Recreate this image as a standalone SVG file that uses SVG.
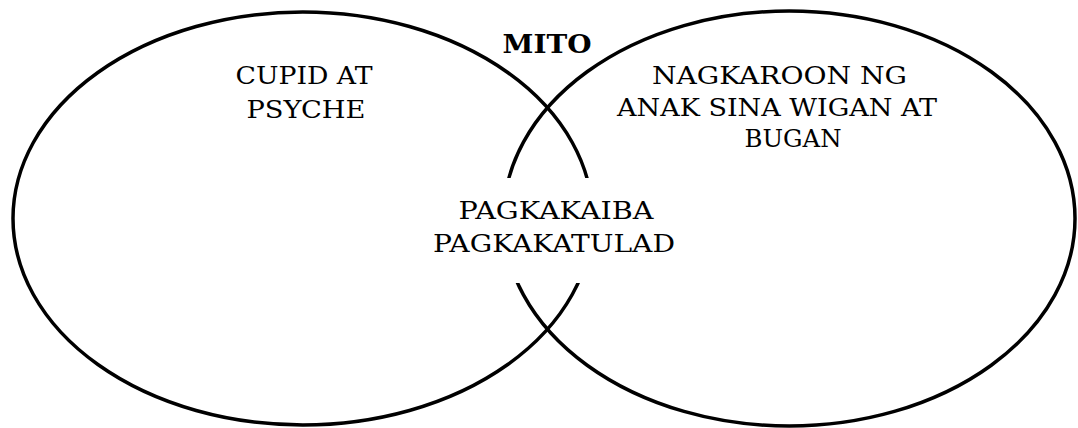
<svg xmlns="http://www.w3.org/2000/svg" width="1078" height="428" viewBox="0 0 1078 428">
<style>
.ring{fill:none;stroke:#000;stroke-width:3.5}
.t{font-family:"DejaVu Serif","Liberation Serif",serif;font-size:25px;fill:#000;text-anchor:middle}
.b{font-family:"DejaVu Serif","Liberation Serif",serif;font-size:26px;font-weight:bold;fill:#000;text-anchor:middle}
</style>
<rect width="1078" height="428" fill="#fff"/>
<g id="left-circle">
<ellipse class="ring" cx="302.8" cy="218.5" rx="289.8" ry="206.5"/>
<text class="t" x="304" y="84" textLength="137" lengthAdjust="spacingAndGlyphs">CUPID AT</text>
<text class="t" x="306" y="118" textLength="119" lengthAdjust="spacingAndGlyphs">PSYCHE</text>
</g>
<g id="right-circle">
<ellipse class="ring" cx="789.2" cy="218.5" rx="285.8" ry="207.5"/>
<text class="t" x="779.5" y="83.5" textLength="255" lengthAdjust="spacingAndGlyphs">NAGKAROON NG</text>
<text class="t" x="777" y="116" textLength="320" lengthAdjust="spacingAndGlyphs">ANAK SINA WIGAN AT</text>
<text class="t" x="793" y="147" textLength="97" lengthAdjust="spacingAndGlyphs">BUGAN</text>
</g>
<g id="title">
<text class="b" x="547" y="53" textLength="89" lengthAdjust="spacingAndGlyphs">MITO</text>
</g>
<g id="overlap">
<rect x="430" y="178" width="250" height="105" fill="#fff"/>
<text class="t" x="556" y="219" textLength="195" lengthAdjust="spacingAndGlyphs">PAGKAKAIBA</text>
<text class="t" x="554" y="252" textLength="242" lengthAdjust="spacingAndGlyphs">PAGKAKATULAD</text>
</g>
<g id="connectors"/>
</svg>
